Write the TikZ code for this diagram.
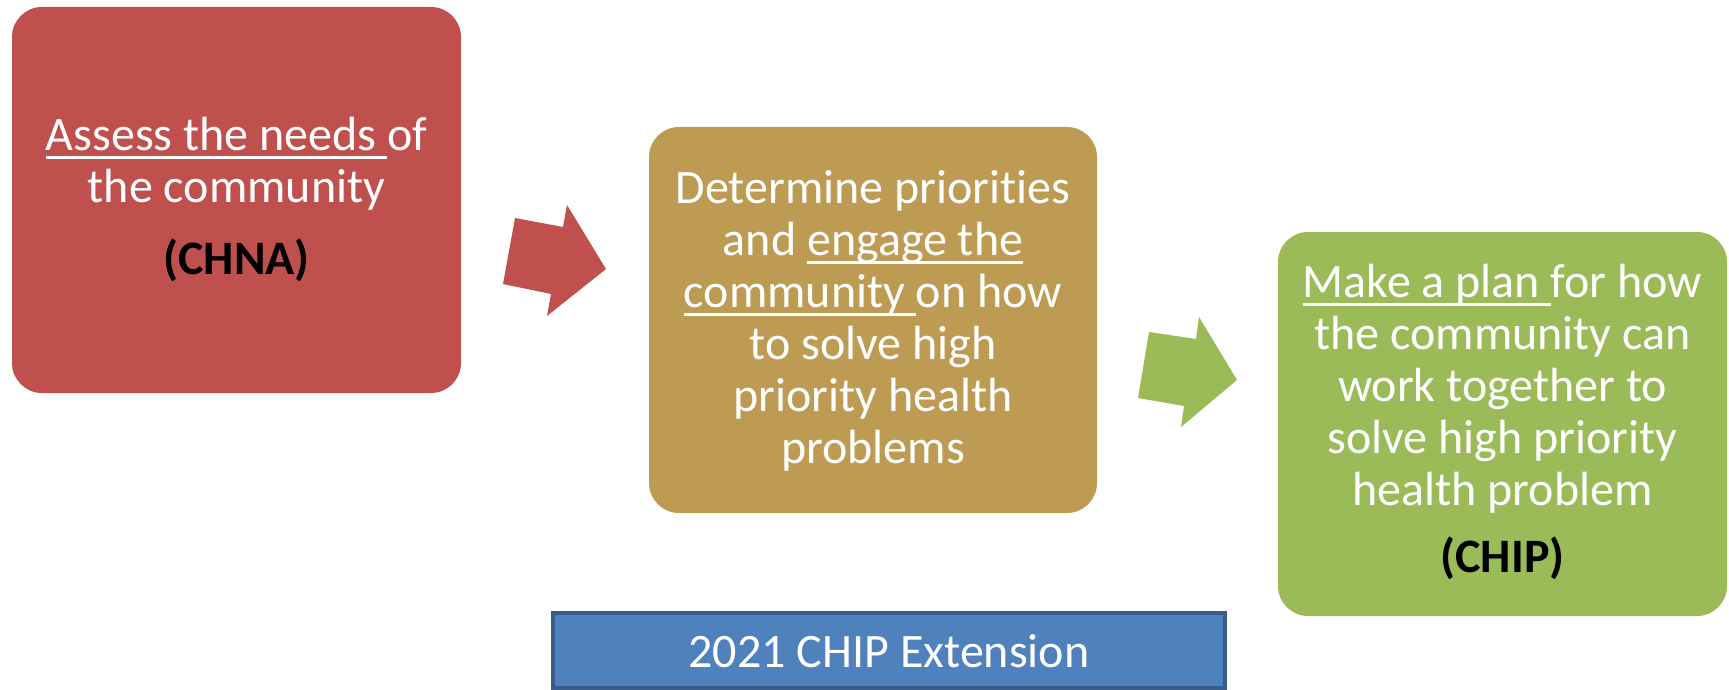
\documentclass[tikz,border=0pt]{standalone}
\usepackage{fontspec}
\setmainfont{Carlito}[Ligatures=NoCommon]
\usepackage{xcolor}
\definecolor{boxred}{HTML}{C0504D}
\definecolor{boxgold}{HTML}{BE9B52}
\definecolor{boxgreen}{HTML}{9BBB59}
\definecolor{boxblue}{HTML}{4F81BD}
\definecolor{boxblueedge}{HTML}{385D8A}
% white underline that also covers a trailing space
\newcommand\ulw[1]{\setbox0\hbox{#1}\rlap{\rule[-9pt]{\wd0}{3pt}}\box0}
\begin{document}
\begin{tikzpicture}[x=1pt,y=-1pt,
  stagebox/.style={rounded corners=30pt, inner sep=0pt, outer sep=0pt},
  % text nodes are placed by the baseline of their last line
  stagetext/.style={anchor=base, align=center, text=white, inner sep=0pt,
    font=\fontsize{48}{52}\selectfont}]
\useasboundingbox (0,0) rectangle (1729,690);

% the three stages
\node[stagebox, fill=boxred, minimum width=449pt, minimum height=386pt] (assess) at (236.5,200) {};
\node[stagebox, fill=boxgold, minimum width=448pt, minimum height=386pt] (determine) at (873,320) {};
\node[stagebox, fill=boxgreen, minimum width=449pt, minimum height=384pt] (plan) at (1502.5,424) {};

\node[stagetext] (assess-text) at (236.5,274)
  {\ulw{Assess the needs\ }of\\the community\\[20pt]{\bfseries\color{black}(CHNA)}};
\node[stagetext] (determine-text) at (873,463)
  {Determine priorities\\and \ulw{engage the}\\\ulw{community\ }on how\\to solve high\\priority health\\problems};
\node[stagetext] (plan-text) at (1502.5,572)
  {\ulw{Make a plan\ }for how\\the community can\\work together to\\solve high priority\\health problem\\[15pt]{\bfseries\color{black}(CHIP)}};

% block arrows between the stages
\fill[boxred] (515,218) -- (563,227) -- (567,205) -- (606,269) -- (547,316) -- (551,294) -- (503,284) -- cycle;
\fill[boxgreen] (1149,332) -- (1196,339) -- (1199,317) -- (1237,380) -- (1181,427) -- (1184,406) -- (1138,398) -- cycle;

% extension banner
\node[draw=boxblueedge, line width=4pt, fill=boxblue, minimum width=672pt, minimum height=75pt, inner sep=0pt] (extension) at (889,650.5) {};
\node[anchor=base, text=white, inner sep=0pt, font=\fontsize{48}{56}\selectfont] (extension-text) at (889,667) {2021 CHIP Extension};
\end{tikzpicture}
\end{document}
